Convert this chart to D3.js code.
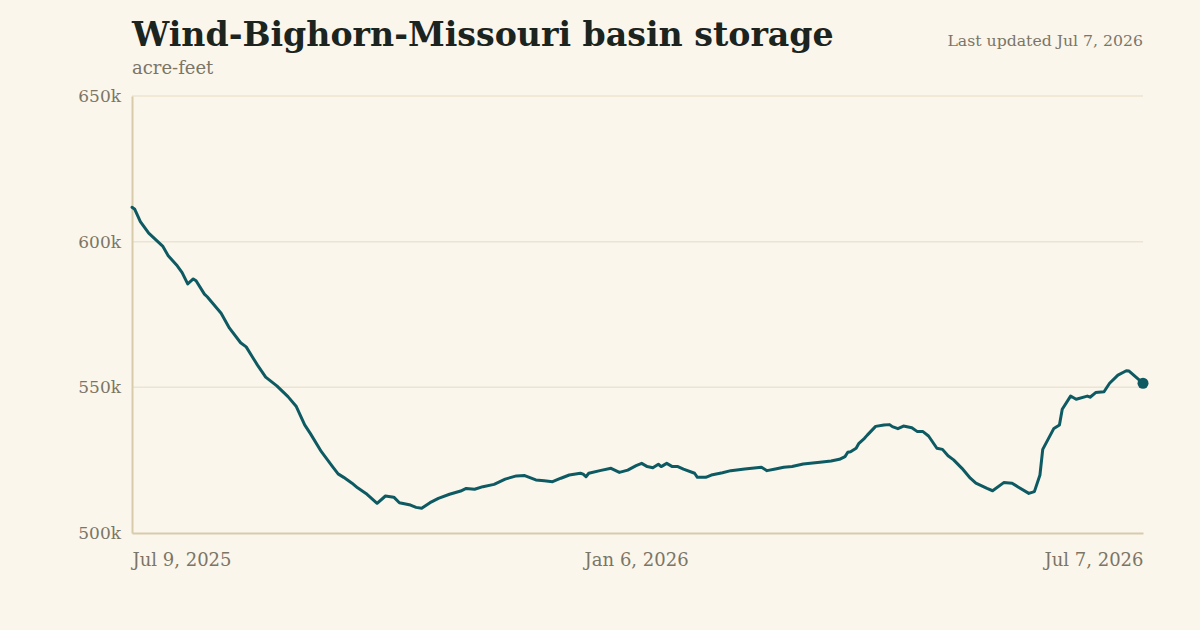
<!DOCTYPE html>
<html>
<head>
<meta charset="utf-8">
<script src="https://cdn.jsdelivr.net/npm/d3@7"></script>
<style>
  html, body { margin: 0; padding: 0; background: #faf6ec; }
  svg { display: block; }
  text { font-family: Georgia, "DejaVu Serif", "Liberation Serif", serif; }
</style>
</head>
<body>
<svg id="chart" width="1200" height="630"></svg>
<script>
const title = "Wind-Bighorn-Missouri basin storage";
const subtitle = "acre-feet";
const updated = "Last updated Jul 7, 2026";

const dates = [
  "2025-07-09","2025-07-10","2025-07-12","2025-07-15","2025-07-20","2025-07-22","2025-07-25","2025-07-27","2025-07-29","2025-07-31",
  "2025-08-01","2025-08-04","2025-08-05","2025-08-10","2025-08-13","2025-08-17","2025-08-19","2025-08-23","2025-08-26","2025-08-30",
  "2025-09-03","2025-09-06","2025-09-09","2025-09-11","2025-09-15","2025-09-19","2025-09-21","2025-09-23","2025-09-26","2025-09-28",
  "2025-10-01","2025-10-05","2025-10-08","2025-10-11","2025-10-13","2025-10-17","2025-10-19","2025-10-21","2025-10-24","2025-10-27","2025-10-31",
  "2025-11-04","2025-11-06","2025-11-09","2025-11-12","2025-11-16","2025-11-20","2025-11-24","2025-11-27",
  "2025-12-01","2025-12-04","2025-12-07","2025-12-10","2025-12-13","2025-12-17","2025-12-18","2025-12-19","2025-12-20","2025-12-24","2025-12-28","2025-12-31",
  "2026-01-03","2026-01-06","2026-01-08","2026-01-10","2026-01-12","2026-01-14","2026-01-15","2026-01-17","2026-01-19","2026-01-21","2026-01-23","2026-01-27","2026-01-28","2026-01-31",
  "2026-02-02","2026-02-06","2026-02-09","2026-02-14","2026-02-20","2026-02-22","2026-02-25","2026-02-28",
  "2026-03-03","2026-03-07","2026-03-13","2026-03-17","2026-03-20","2026-03-22","2026-03-23","2026-03-24","2026-03-26","2026-03-27","2026-03-29","2026-03-30",
  "2026-04-02","2026-04-05","2026-04-07","2026-04-08","2026-04-10","2026-04-12","2026-04-15","2026-04-17","2026-04-19","2026-04-21","2026-04-24","2026-04-26","2026-04-28","2026-04-30",
  "2026-05-03","2026-05-06","2026-05-08","2026-05-12","2026-05-14","2026-05-18","2026-05-21","2026-05-23","2026-05-27","2026-05-29","2026-05-31",
  "2026-06-01","2026-06-05","2026-06-07","2026-06-08","2026-06-11","2026-06-13","2026-06-17","2026-06-18","2026-06-20","2026-06-23","2026-06-25","2026-06-28",
  "2026-07-01","2026-07-02","2026-07-05","2026-07-07"
];

const storage = [
  611.8,611.1,606.9,602.9,598.5,595.2,592.0,589.4,585.5,587.2,
  586.6,582.0,581.1,575.4,570.3,565.3,563.9,557.7,553.5,550.5,
  546.8,543.4,537.1,534.2,527.9,522.8,520.3,519.1,517.1,515.5,
  513.6,510.2,512.7,512.3,510.4,509.6,508.8,508.5,510.4,511.9,513.3,
  514.4,515.3,515.0,515.9,516.7,518.5,519.6,519.7,
  518.2,517.9,517.6,518.8,519.9,520.5,520.2,519.3,520.5,521.4,522.2,520.8,
  521.6,523.1,523.9,522.8,522.4,523.6,522.8,523.9,522.8,522.8,521.9,520.5,519.1,519.1,
  519.9,520.7,521.4,522.0,522.6,521.4,522.0,522.6,
  522.8,523.7,524.3,524.7,525.3,526.2,527.7,527.9,529.1,530.8,532.5,533.6,
  536.6,537.1,537.2,536.5,535.8,536.7,536.1,534.8,534.8,533.3,529.1,528.7,526.5,525.1,
  522.2,518.8,517.1,515.3,514.5,517.3,517.1,515.9,513.6,514.2,519.9,
  528.7,535.9,537.1,542.5,547.0,545.9,547.0,546.6,548.2,548.5,551.4,554.2,
  555.7,555.6,553.1,551.4
].map(v => v * 1000);

const yTicks = [500000, 550000, 600000, 650000];
const yTickLabels = ["500k", "550k", "600k", "650k"];
const xTicks = ["2025-07-09", "2026-01-06", "2026-07-07"];
const xTickLabels = ["Jul 9, 2025", "Jan 6, 2026", "Jul 7, 2026"];

const parse = d3.utcParse("%Y-%m-%d");
const data = dates.map((d, i) => ({ date: parse(d), value: storage[i] }));

const svg = d3.select("#chart");
svg.append("rect").attr("width", 1200).attr("height", 630).attr("fill", "#faf6ec");

const margin = { left: 132, right: 57, top: 96, bottom: 97 };
const W = 1200, H = 630;

const x = d3.scaleUtc()
  .domain([parse(xTicks[0]), parse(xTicks[2])])
  .range([margin.left, W - margin.right]);
const y = d3.scaleLinear()
  .domain([500000, 650000])
  .range([H - margin.bottom, margin.top]);

// gridlines
const grid = svg.append("g");
grid.selectAll("line").data(yTicks.slice(1)).join("line")
  .attr("x1", margin.left).attr("x2", W - margin.right)
  .attr("y1", d => y(d)).attr("y2", d => y(d))
  .attr("stroke", "#ece4d2").attr("stroke-width", 1.5);

// y axis
const yAxis = d3.axisLeft(y).tickValues(yTicks)
  .tickFormat((d, i) => yTickLabels[i]).tickSize(0).tickPadding(11);
const gy = svg.append("g").attr("transform", `translate(${margin.left},0)`).call(yAxis);
gy.select(".domain").attr("stroke", "#d8cbaa").attr("stroke-width", 2);
gy.selectAll("text").attr("fill", "#7b7566").style("font-size", "17px")
  .style("font-family", 'Georgia, "DejaVu Serif", serif');

// x axis
const xAxis = d3.axisBottom(x).tickValues(xTicks.map(parse))
  .tickFormat((d, i) => xTickLabels[i]).tickSize(0).tickPadding(20);
const gx = svg.append("g").attr("transform", `translate(0,${H - margin.bottom})`).call(xAxis);
gx.select(".domain").attr("stroke", "#d8cbaa").attr("stroke-width", 2);
gx.selectAll("text").attr("fill", "#7b7566").style("font-size", "18px")
  .style("font-family", 'Georgia, "DejaVu Serif", serif')
  .attr("text-anchor", (d, i) => i === 0 ? "start" : (i === 2 ? "end" : "middle"));

// line
const line = d3.line().x(d => x(d.date)).y(d => y(d.value)).curve(d3.curveLinear);
svg.append("path").datum(data)
  .attr("fill", "none").attr("stroke", "#0e5a62").attr("stroke-width", 3)
  .attr("stroke-linejoin", "round").attr("stroke-linecap", "round")
  .attr("d", line);

const last = data[data.length - 1];
svg.append("circle").attr("cx", x(last.date)).attr("cy", y(last.value))
  .attr("r", 5.5).attr("fill", "#0e5a62");

// titles
svg.append("text").attr("x", 132).attr("y", 46)
  .attr("fill", "#1c2420").style("font-size", "33.2px").style("font-weight", "bold")
  .text(title);
svg.append("text").attr("x", 132).attr("y", 74)
  .attr("fill", "#7b7566").style("font-size", "18px")
  .text(subtitle);
svg.append("text").attr("x", 1143).attr("y", 46).attr("text-anchor", "end")
  .attr("fill", "#7b7566").style("font-size", "15.7px")
  .text(updated);
</script>
</body>
</html>
